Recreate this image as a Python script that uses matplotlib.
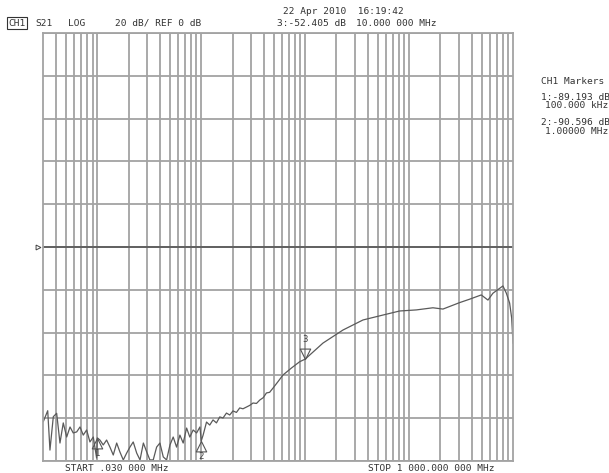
import numpy as np
import matplotlib
matplotlib.use("Agg")
import matplotlib.pyplot as plt
from matplotlib.path import Path
from matplotlib.transforms import offset_copy

# Trace (MHz, dB)
freq_mhz = [0.0302, 0.0333, 0.035, 0.0377, 0.0406, 0.0437, 0.047, 0.0507, 0.0546,
            0.0586, 0.0633, 0.0681, 0.0732, 0.0789, 0.0849, 0.0914, 0.0984, 0.100,
            0.1059, 0.114, 0.1228, 0.1322, 0.1423, 0.1535, 0.165, 0.1777, 0.1915,
            0.2059, 0.2215, 0.2392, 0.2575, 0.2773, 0.2988, 0.3203, 0.345, 0.372,
            0.400, 0.431, 0.464, 0.500, 0.537, 0.579, 0.623, 0.670, 0.723, 0.776,
            0.836, 0.902, 0.971, 1.0, 1.042, 1.124, 1.207, 1.298, 1.40, 1.507,
            1.62, 1.748, 1.88, 2.02, 2.18, 2.345, 2.52, 2.72, 2.93, 3.15, 3.40,
            3.66, 3.95, 4.24, 4.55, 4.91, 5.5, 6.12, 7.4, 8.86, 10.0, 14.83, 23.1,
            36.0, 56.0, 81.2, 117.4, 169.6, 211.8, 306, 382, 495, 574, 641, 800,
            863, 928, 971, 1000]
s21_db = [-81.6, -76.5, -94.9, -79.3, -77.7, -91.6, -82.2, -88.8, -84.1,
          -86.9, -86.4, -84.1, -87.9, -85.5, -91.1, -88.8, -98.6, -89.2,
          -90.2, -92.5, -90.2, -93.5, -97.2, -91.6, -95.8, -99.5, -96.3,
          -93.5, -91.1, -96.3, -99.5, -91.6, -95.8, -99.5, -99.5, -93.5,
          -91.6, -98.1, -99.5, -92.5, -88.8, -93.5, -87.9, -91.6, -84.6, -88.8,
          -85.5, -86.9, -84.1, -90.6, -87.9, -81.8, -83.2, -80.8, -82.2, -79.4,
          -79.9, -77.6, -78.5, -76.6, -77.3, -75.2, -75.6, -74.8, -74.0, -72.9, -73.1,
          -71.5, -70.4, -68.2, -67.9, -65.9, -62.8, -59.8, -56.5, -53.6, -52.4, -44.9, -38.8,
          -34.1, -31.8, -29.9, -29.4, -28.4, -29.0, -26.0, -24.4, -22.4, -24.8, -21.6, -18.2,
          -21.6, -26.2, -33.2, -44.9]

# Markers: (number, MHz, dB, pointing down?)
marker_num = ["1", "2", "3"]
marker_f = [0.1, 1.0, 10.0]
marker_db = [-89.193, -90.596, -52.405]
marker_down = [False, False, True]

W, H = 609, 473
fig = plt.figure(figsize=(W / 100, H / 100), dpi=100)
fig.patch.set_facecolor("white")
ax = fig.add_axes([43 / W, 1 - 461 / H, 470 / W, 428 / H])

grid_c = "#a3a3a3"
ax.set_xscale("log")
ax.set_xlim(0.03, 1000)
ax.set_ylim(-100, 100)
xgrid = [m * 10.0 ** e for e in range(-2, 3) for m in range(1, 10)]
xgrid = [v for v in xgrid if 0.03 < v < 1000]
ax.set_xticks(xgrid)
ax.set_xticks([], minor=True)
ax.set_yticks(np.arange(-100, 101, 20))
ax.grid(True, color=grid_c, linewidth=1.3)
ax.tick_params(length=0, labelbottom=False, labelleft=False)
for s in ax.spines.values():
    s.set_color(grid_c)
    s.set_linewidth(1.3)
ax.axhline(0, color="#555555", linewidth=1.2)

ax.plot(freq_mhz, s21_db, color="#5a5a5a", linewidth=0.9)

# marker triangles, tip on the trace
tri_down = Path([(0, 0), (-1, 2), (1, 2), (0, 0)], [1, 2, 2, 79])
tri_up = Path([(0, 0), (-1, -2), (1, -2), (0, 0)], [1, 2, 2, 79])
for n, f, d, down in zip(marker_num, marker_f, marker_db, marker_down):
    ax.plot([f], [d], marker=tri_down if down else tri_up, markersize=15,
            markerfacecolor="none", markeredgecolor="#555555", markeredgewidth=0.8)
    if down:
        ax.annotate(n, (f, d), xytext=(0, 11), textcoords="offset points",
                    ha="center", va="bottom", fontsize=6.5, color="#444444",
                    family="DejaVu Sans Mono")
    else:
        ax.annotate(n, (f, d), xytext=(0, -8), textcoords="offset points",
                    ha="center", va="top", fontsize=6.5, color="#444444",
                    family="DejaVu Sans Mono")

# reference position arrow on the left
ref_tr = offset_copy(ax.get_yaxis_transform(), fig=fig, x=-5, y=0, units="dots")
ax.plot([0], [0], marker=">", markersize=3.5, markerfacecolor="none",
        markeredgecolor="#444444", markeredgewidth=0.7, transform=ref_tr, clip_on=False)


def put(x, y, s, **kw):
    fig.text(x / W, 1 - y / H, s, fontsize=6.8, family="DejaVu Sans Mono",
             color="#333333", va="center", **kw)


put(283, 12, "22 Apr 2010  16:19:42")
put(8, 23, "CH1", bbox=dict(boxstyle="square,pad=0.15", fc="none", ec="#333333", lw=0.8))
put(35, 23, "S21")
put(68, 23, "LOG")
put(115, 23, "20 dB/ REF 0 dB")
put(277, 23, "3:-52.405 dB")
put(356, 23, "10.000 000 MHz")
put(65, 468, "START .030 000 MHz")
put(368, 468, "STOP 1 000.000 000 MHz")

put(541, 81, "CH1 Markers")
put(541, 97, "1:-89.193 dB")
put(545, 105, "100.000 kHz")
put(541, 122, "2:-90.596 dB")
put(545, 131, "1.00000 MHz")

fig.savefig("out.png", dpi=100)
